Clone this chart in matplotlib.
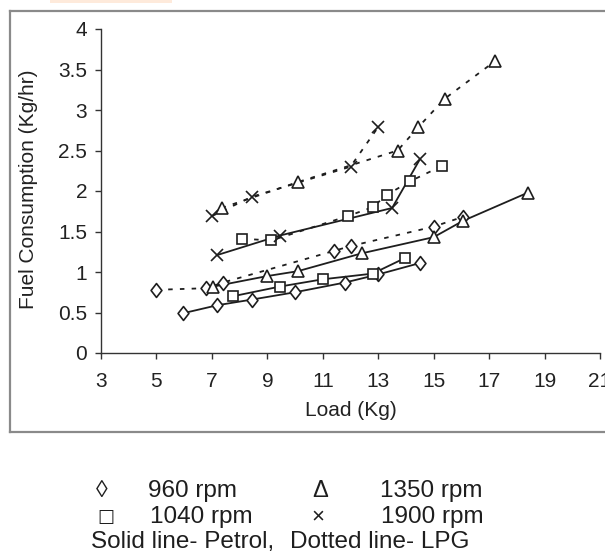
import matplotlib
matplotlib.use("Agg")
import matplotlib.pyplot as plt
from matplotlib.path import Path
from matplotlib.lines import Line2D
from matplotlib.patches import Rectangle

plt.rcParams['font.family'] = ['Liberation Sans', 'DejaVu Sans']

# ---- data (Load in Kg, Fuel consumption in Kg/hr) ----
load_960_petrol = [5.95, 7.2, 8.45, 10.0, 11.8, 13.0, 14.5]
fc_960_petrol = [0.49, 0.59, 0.66, 0.75, 0.87, 0.97, 1.11]

load_960_lpg = [5.0, 6.8, 7.4, 11.4, 12.0, 15.0, 16.05]
fc_960_lpg = [0.78, 0.80, 0.87, 1.26, 1.32, 1.56, 1.68]

load_1040_petrol = [7.75, 9.45, 11.0, 12.8, 13.95]
fc_1040_petrol = [0.70, 0.82, 0.91, 0.98, 1.17]

load_1040_lpg = [8.1, 9.15, 11.9, 12.8, 13.3, 14.15, 15.3]
fc_1040_lpg = [1.41, 1.39, 1.69, 1.80, 1.95, 2.12, 2.31]

load_1350_petrol = [7.05, 9.0, 10.1, 12.4, 15.0, 16.05, 18.4]
fc_1350_petrol = [0.82, 0.95, 1.01, 1.23, 1.43, 1.63, 1.98]

load_1350_lpg = [7.35, 10.1, 13.7, 14.45, 15.4, 17.2]
fc_1350_lpg = [1.79, 2.11, 2.50, 2.79, 3.14, 3.60]

load_1900_petrol = [7.2, 9.45, 13.5, 14.5]
fc_1900_petrol = [1.21, 1.45, 1.79, 2.39]

load_1900_lpg = [7.0, 8.45, 12.0, 13.0]
fc_1900_lpg = [1.69, 1.93, 2.30, 2.79]

x_ticks = [3, 5, 7, 9, 11, 13, 15, 17, 19, 21]
y_ticks = [0, 0.5, 1, 1.5, 2, 2.5, 3, 3.5, 4]
y_tick_labels = ['0', '0.5', '1', '1.5', '2', '2.5', '3', '3.5', '4']

# ---- figure ----
W, H = 605, 560
fig = plt.figure(figsize=(W / 100, H / 100), dpi=100)
fig.patch.set_facecolor('white')

ax = fig.add_axes([101 / W, 1 - 353 / H, (600 - 101) / W, (353 - 29) / H])
ax.set_xlim(3, 21)
ax.set_ylim(0, 4)

diamond = Path([(0, 1), (0.78, 0), (0, -1), (-0.78, 0), (0, 1)],
               [Path.MOVETO, Path.LINETO, Path.LINETO, Path.LINETO, Path.CLOSEPOLY])

dotted = (0, (2.5, 4))
series = [
    (load_960_petrol, fc_960_petrol, '-', diamond, 10),
    (load_960_lpg, fc_960_lpg, dotted, diamond, 10),
    (load_1040_petrol, fc_1040_petrol, '-', 's', 7.6),
    (load_1040_lpg, fc_1040_lpg, dotted, 's', 7.6),
    (load_1350_petrol, fc_1350_petrol, '-', '^', 9.3),
    (load_1350_lpg, fc_1350_lpg, dotted, '^', 9.3),
    (load_1900_petrol, fc_1900_petrol, '-', 'x', 8.6),
    (load_1900_lpg, fc_1900_lpg, dotted, 'x', 8.6),
]
ink = '#1e1e1e'
for xs, ys, ls, mk, ms in series:
    ax.plot(xs, ys, linestyle=ls, color=ink, lw=1.3, zorder=2)
for xs, ys, ls, mk, ms in series:
    ax.plot(xs, ys, linestyle='none', marker=mk, markersize=ms,
            markerfacecolor='white', markeredgecolor=ink, markeredgewidth=1.2, zorder=3)

for s in ['top', 'right']:
    ax.spines[s].set_visible(False)
for s in ['left', 'bottom']:
    ax.spines[s].set_color('#333333')
    ax.spines[s].set_linewidth(1.0)

ax.set_xticks(x_ticks)
ax.set_xticklabels([str(v) for v in x_ticks])
ax.set_yticks(y_ticks)
ax.set_yticklabels(y_tick_labels)
ax.tick_params(axis='both', direction='out', length=4, width=1.0, color='#333333',
               labelsize=15, labelcolor='#222222')
ax.tick_params(axis='y', pad=6)
ax.tick_params(axis='x', pad=10)

fig.text(29 / W, 1 - 189 / H, 'Fuel Consumption (Kg/hr)', rotation=90,
         ha='center', va='center', fontsize=15, color='#222222')
fig.text(351 / W, 1 - 411 / H, 'Load (Kg)', ha='center', va='center',
         fontsize=15, color='#222222')

# scanned frame
fc = '#8a8a8a'
fig.add_artist(Line2D([10 / W, 1.0], [1 - 11 / H, 1 - 11 / H], transform=fig.transFigure, color=fc, lw=1.6))
fig.add_artist(Line2D([10 / W, 1.0], [1 - 432 / H, 1 - 432 / H], transform=fig.transFigure, color=fc, lw=1.6))
fig.add_artist(Line2D([10 / W, 10 / W], [1 - 11 / H, 1 - 432 / H], transform=fig.transFigure, color=fc, lw=1.6))
fig.add_artist(Rectangle((50 / W, 1 - 3 / H), 122 / W, 3 / H, transform=fig.transFigure,
                         facecolor='#feeadb', edgecolor='none'))

# legend text
tc = '#1e1e1e'
fs = 17.5
rows = [1 - 491 / H, 1 - 517 / H, 1 - 542 / H]
fig.text(102 / W, rows[0], '◊', ha='center', va='center', fontsize=17, color=tc)
fig.text(148 / W, rows[0], '960 rpm', ha='left', va='center', fontsize=fs, color=tc)
fig.text(320 / W, rows[0], 'Δ', ha='center', va='center', fontsize=17, color=tc)
fig.text(380 / W, rows[0], '1350 rpm', ha='left', va='center', fontsize=fs, color=tc)
fig.text(106 / W, rows[1], '□', ha='center', va='center', fontsize=13, color=tc,
         family=['DejaVu Sans'])
fig.text(150 / W, rows[1], '1040 rpm', ha='left', va='center', fontsize=fs, color=tc)
fig.text(318 / W, rows[1], '×', ha='center', va='center', fontsize=16, color=tc)
fig.text(381 / W, rows[1], '1900 rpm', ha='left', va='center', fontsize=fs, color=tc)
fig.text(91 / W, rows[2], 'Solid line- Petrol,', ha='left', va='center', fontsize=fs, color=tc)
fig.text(290 / W, rows[2], 'Dotted line- LPG', ha='left', va='center', fontsize=fs, color=tc)

fig.savefig('out.png', dpi=100, facecolor='white')
